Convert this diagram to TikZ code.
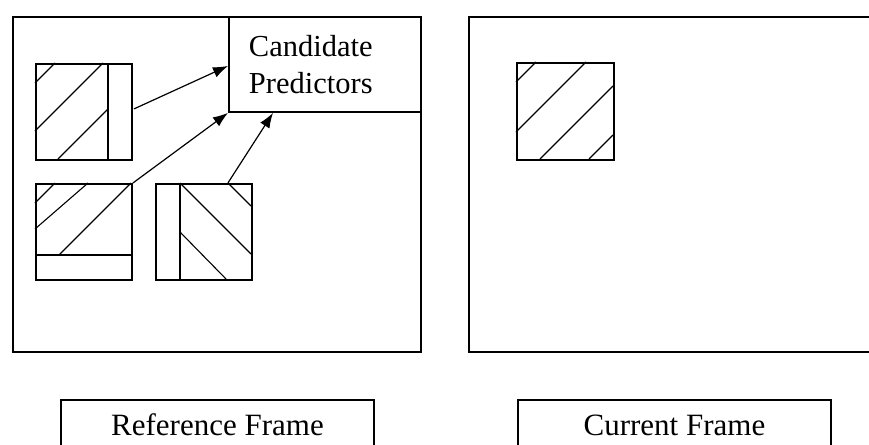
\documentclass[tikz,border=0pt]{standalone}
\usepackage{fontspec}
\setmainfont{Liberation Serif}
\usetikzlibrary{arrows.meta,calc}
\begin{document}
\begin{tikzpicture}[x=1pt,y=-1pt,
  frame/.style={draw,line width=1.9pt,inner sep=0pt,anchor=north west},
  blk/.style={draw,line width=1.9pt,inner sep=0pt,minimum size=96pt,anchor=north west},
  divider/.style={line width=1.9pt},
  hatch/.style={line width=1.1pt},
  arr/.style={line width=1.2pt,-{Latex[length=15pt,width=11pt]}},
  lbl/.style={draw,line width=1.9pt,anchor=north west,font=\fontsize{31}{37}\selectfont,
    text height=22pt,text depth=30pt,inner ysep=14pt,inner xsep=0pt,minimum width=313pt}]
\useasboundingbox (0,0) rectangle (869,444);
\clip (0,0) rectangle (869,444);
% frames
\node[frame,minimum width=408pt,minimum height=335pt] (refframe) at (12,16) {};
\node[frame,minimum width=420pt,minimum height=335pt] (curframe) at (468,16) {};
% candidate predictors
\node[frame,minimum width=192pt,minimum height=95pt,text width=152pt,inner xsep=20pt,
  align=left,font=\fontsize{30.5}{37}\selectfont] (cand) at (228,16) {Candidate\\Predictors};
% block 1
\node[blk] (b1) at (35,63) {};
\draw[divider] (108,63) -- (108,159);
\draw[hatch] (35,83) -- (55,63);
\draw[hatch] (35,131) -- (103,63);
\draw[hatch] (58,159) -- (108,109);
% block 2
\node[blk] (b2) at (35,183) {};
\draw[divider] (35,255) -- (131,255);
\draw[hatch] (35,203) -- (55,183);
\draw[hatch] (35,229) -- (88,183);
\draw[hatch] (59,255) -- (131,183);
% block 3
\node[blk] (b3) at (155,183) {};
\draw[divider] (180,183) -- (180,279);
\draw[hatch] (228,183) -- (251,206);
\draw[hatch] (180,183) -- (251,254);
\draw[hatch] (180,232) -- (226,279);
% current block
\node[blk,minimum size=97pt] (rb) at (516,62) {};
\draw[hatch] (516,82) -- (536,62);
\draw[hatch] (516,132) -- (586,62);
\draw[hatch] (540,159) -- (613,86);
\draw[hatch] (589,159) -- (613,135);
% arrows
\draw[arr] ($(b1.east)+(1,-3)$) -- ($(cand.west)+(0,1.5)$);
\draw[arr] (b2.north east) -- (cand.south west);
\draw[arr] ($(b3.north east)+(-25,0)$) -- ($(cand.south west)+(45,0)$);
% labels
\node[lbl] (reflbl) at (60,399) {Reference Frame};
\node[lbl] (curlbl) at (517,399) {Current Frame};
\end{tikzpicture}
\end{document}
